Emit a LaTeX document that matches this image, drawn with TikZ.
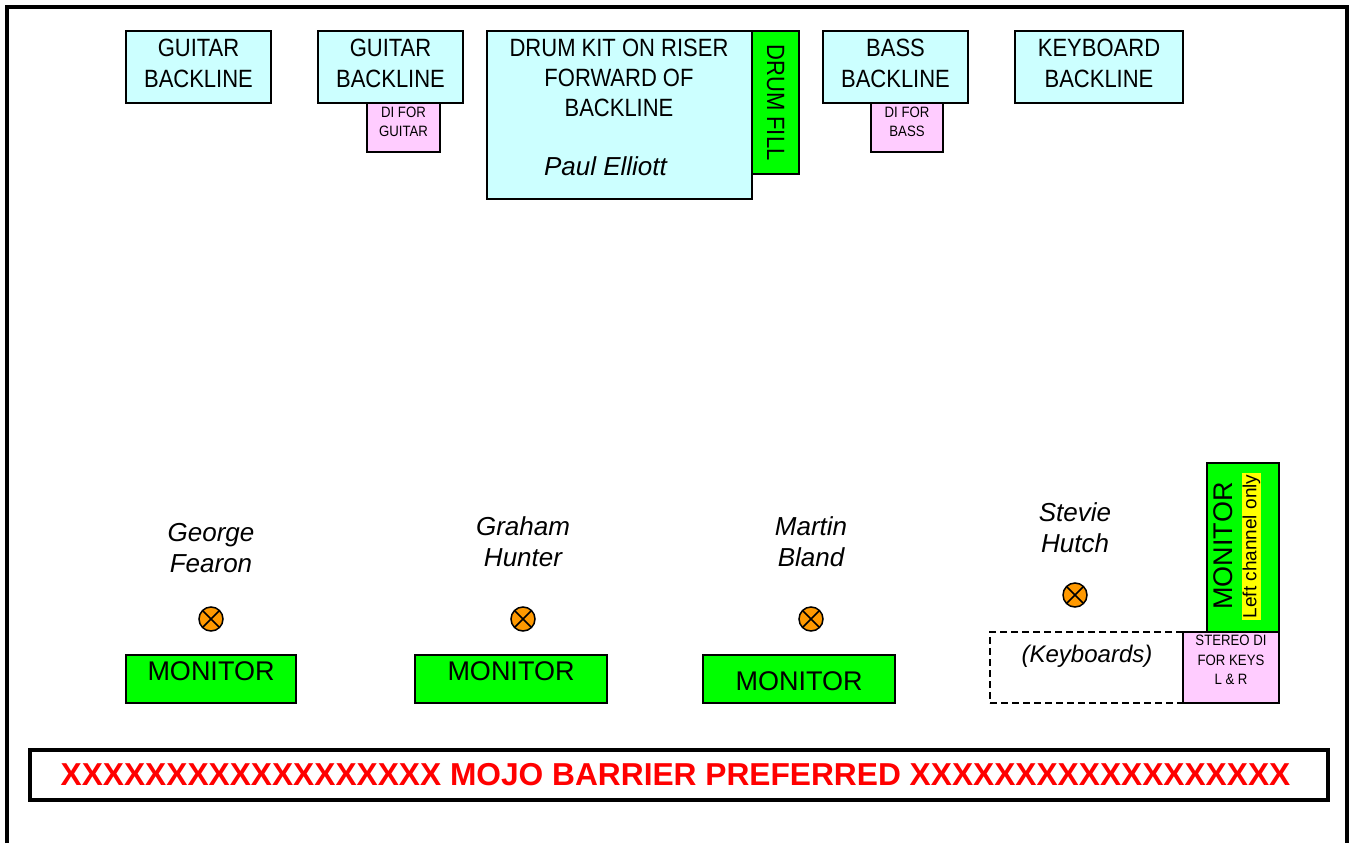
\documentclass[tikz,border=0pt]{standalone}
\usepackage{fontspec}
\setmainfont{Liberation Sans}
\newfontfamily\narrowfont[FakeStretch=0.88]{Liberation Sans}
\definecolor{cyanl}{HTML}{CCFFFF}
\definecolor{pinkl}{HTML}{FFCCFF}
\definecolor{greenm}{HTML}{00FF00}
\definecolor{orangem}{HTML}{FF9900}
\definecolor{yellowm}{HTML}{FFFF00}
\definecolor{redm}{HTML}{FF0000}
\begin{document}
\begin{tikzpicture}[x=1pt,y=-1pt,
 box/.style={draw=black, line width=1.6pt, inner sep=0pt, outer sep=0pt, align=center},
 back/.style={box, fill=cyanl},
 backtext/.style={font=\narrowfont\fontsize{25}{31}\selectfont, align=center, inner sep=0pt},
 di/.style={box, fill=pinkl},
 ditext/.style={font=\narrowfont\fontsize{15}{19.5}\selectfont, align=center, inner sep=0pt},
 mon/.style={box, fill=greenm},
 montext/.style={font=\fontsize{27}{30}\selectfont, inner sep=0pt},
 person/.style={font=\fontsize{26}{31}\selectfont\itshape, align=center, inner sep=0pt},
 mic/.style={circle, draw=black, line width=1.5pt, fill=orangem, minimum size=24pt, inner sep=0pt,
   path picture={\draw[line width=1.5pt] (path picture bounding box.south west) -- (path picture bounding box.north east)
     (path picture bounding box.north west) -- (path picture bounding box.south east);}}
]
\useasboundingbox (0,0) rectangle (1356,843);
\fill[white] (0,0) rectangle (1356,843);
% outer frame
\draw[line width=4pt] (7,843) -- (7,7) -- (1347,7) -- (1347,843);

% backline row
\node[back, minimum width=145pt, minimum height=72pt] (gb1) at (198.5,67) {};
\node[backtext] (gb1t) at (198.5,63.5) {GUITAR\\BACKLINE};
\node[back, minimum width=145pt, minimum height=72pt] (gb2) at (390.5,67) {};
\node[backtext] (gb2t) at (390.5,63.5) {GUITAR\\BACKLINE};
\node[di, minimum width=73pt, minimum height=49pt] (dig) at (403.5,127.5) {};
\node[ditext] (digt) at (403.5,122) {DI FOR\\GUITAR};
\node[back, minimum width=265pt, minimum height=168pt] (drum) at (619.5,115) {};
\node[backtext, font=\narrowfont\fontsize{25}{30}\selectfont] (drumtxt) at (619,78) {DRUM KIT ON RISER\\FORWARD OF\\BACKLINE};
\node[person] (paul) at (605.5,166) {Paul Elliott};
\node[mon, minimum width=47pt, minimum height=143pt] (fill) at (775.5,102.5) {};
\node[backtext, rotate=-90] (filltxt) at (775.5,102.5) {DRUM FILL};
\node[back, minimum width=145pt, minimum height=72pt] (bb) at (895.5,67) {};
\node[backtext] (bbt) at (895.5,63.5) {BASS\\BACKLINE};
\node[di, minimum width=72pt, minimum height=49pt] (dib) at (907,127.5) {};
\node[ditext] (dibt) at (907,122) {DI FOR\\BASS};
\node[back, minimum width=168pt, minimum height=72pt] (kb) at (1099,67) {};
\node[backtext] (kbt) at (1099,63.5) {KEYBOARD\\BACKLINE};

% front line
\node[person] (george) at (211,548.5) {George\\Fearon};
\node[mic] (mic1) at (211,619) {};
\node[mon, minimum width=170pt, minimum height=48pt] (mon1) at (211,679) {};
\node[montext] (mon1t) at (211,671) {MONITOR};

\node[person] (graham) at (523,541.5) {Graham\\Hunter};
\node[mic] (mic2) at (523,619) {};
\node[mon, minimum width=192pt, minimum height=48pt] (mon2) at (511,679) {};
\node[montext] (mon2t) at (511,671) {MONITOR};

\node[person] (martin) at (811,541.5) {Martin\\Bland};
\node[mic] (mic3) at (811,619) {};
\node[mon, minimum width=192pt, minimum height=48pt] (mon3) at (799,679) {};
\node[montext] (mon3t) at (799,681) {MONITOR};

\node[person] (stevie) at (1075,527.5) {Stevie\\Hutch};
\node[mic] (mic4) at (1075,595) {};
\node[draw=black, line width=1.3pt, dash pattern=on 7pt off 4pt, minimum width=193pt, minimum height=71pt, inner sep=0pt] (keys) at (1086.5,667.5) {};
\node[person, font=\fontsize{24}{30}\selectfont\itshape] (keystxt) at (1087,656) {(Keyboards)};
\node[mon, minimum width=72pt, minimum height=169pt] (mon4) at (1243,547.5) {};
\node[montext, rotate=90] (mon4t) at (1223,546) {MONITOR};
\node[fill=yellowm, rotate=90, font=\fontsize{19}{22}\selectfont, inner xsep=2pt, inner ysep=1pt] (leftonly) at (1251.5,546.5) {Left channel only};
\node[di, minimum width=96pt, minimum height=71pt] (dik) at (1231,667.5) {};
\node[ditext] (diktxt) at (1231,660) {STEREO DI\\FOR KEYS\\L \& R};

% barrier
\node[draw=black, line width=3.5pt, minimum width=1298pt, minimum height=50pt, inner sep=0pt] (barrier) at (679,775) {};
\node[text=redm, font=\fontsize{31.7}{36}\selectfont\bfseries, inner sep=0pt] (barriertxt) at (675.5,775) {XXXXXXXXXXXXXXXXXX MOJO BARRIER PREFERRED XXXXXXXXXXXXXXXXXX};
\end{tikzpicture}
\end{document}
